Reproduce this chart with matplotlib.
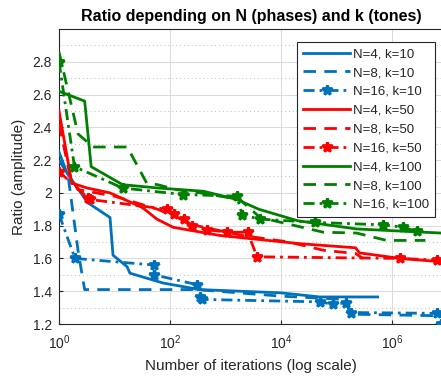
import matplotlib
matplotlib.use("Agg")
import matplotlib.pyplot as plt
from matplotlib.ticker import FixedLocator, FuncFormatter, MultipleLocator

# ---- data ----
x_n4_k10 = [1, 1.4, 3.3, 8.3, 9.4, 16.8, 19, 75, 345, 1.0e4, 5e4, 5.5e5]
y_n4_k10 = [2.25, 2.12, 1.94, 1.85, 1.62, 1.55, 1.51, 1.45, 1.41, 1.39, 1.365, 1.365]

x_n8_k10 = [1, 1.45, 2.2, 2.7, 2.9, 300, 1.0e4, 1.4e5, 1.8e5, 7.6e6]
y_n8_k10 = [2.2, 2.11, 1.65, 1.47, 1.41, 1.41, 1.37, 1.35, 1.26, 1.25]

x_n16_k10 = [1, 1.94, 51, 52, 307, 345, 380, 5e4, 8.6e4, 1.5e5, 1.8e5, 6.5e6, 7.6e6]
y_n16_k10 = [1.87, 1.6, 1.56, 1.5, 1.44, 1.365, 1.35, 1.335, 1.32, 1.33, 1.27, 1.265, 1.2]

x_n4_k50 = [1, 1.7, 3.2, 8.3, 32, 58, 114, 800, 2.2e4, 2.2e5, 2.6e5, 1.4e6, 7.6e6]
y_n4_k50 = [2.5, 2.06, 2.03, 2.0, 1.91, 1.84, 1.79, 1.74, 1.69, 1.665, 1.634, 1.60, 1.58]

x_n8_k50 = [1, 1.6, 2.2, 10, 60, 300, 2e3, 1.4e4, 5.8e4, 2.2e5, 3.0e5]
y_n8_k50 = [2.42, 2.1, 2.02, 1.98, 1.9, 1.8, 1.74, 1.70, 1.65, 1.63, 1.60]

x_n16_k50 = [1, 3.3, 3.6, 88, 120, 180, 250, 465, 1070, 2.5e3, 3.7e3, 1.4e6, 6.5e6]
y_n16_k50 = [2.13, 1.97, 1.96, 1.9, 1.87, 1.84, 1.8, 1.775, 1.76, 1.76, 1.61, 1.60, 1.59]

x_n4_k100 = [1, 2.9, 3.8, 14, 60, 400, 1600, 4000, 2e4, 2.3e5, 7.6e6]
y_n4_k100 = [2.62, 2.56, 2.16, 2.05, 2.03, 2.01, 1.96, 1.90, 1.83, 1.78, 1.755]

x_n8_k100 = [1, 2.2, 4.1, 11, 17, 38, 60, 130, 350, 1800, 4.2e3, 5.8e4, 2.3e5, 4.6e5, 8e5, 4e6]
y_n8_k100 = [2.86, 2.36, 2.28, 2.28, 2.28, 2.06, 2.05, 2.02, 2.0, 1.96, 1.85, 1.76, 1.755, 1.73, 1.71, 1.71]

x_n16_k100 = [1, 1.9, 14, 170, 1600, 2e3, 4.2e3, 4.1e4, 7e5, 1.6e6, 2.8e6]
y_n16_k100 = [2.8, 2.16, 2.03, 1.99, 1.98, 1.865, 1.84, 1.82, 1.805, 1.79, 1.765]

labels = ["N=4, k=10", "N=8, k=10", "N=16, k=10",
          "N=4, k=50", "N=8, k=50", "N=16, k=50",
          "N=4, k=100", "N=8, k=100", "N=16, k=100"]

title = "Ratio depending on N (phases) and k (tones)"
xlabel = "Number of iterations (log scale)"
ylabel = "Ratio (amplitude)"
yticks = [1.2, 1.4, 1.6, 1.8, 2.0, 2.2, 2.4, 2.6, 2.8]
xticks = [1, 1e2, 1e4, 1e6]

# ---- styling ----
plt.rcParams["font.family"] = ["Liberation Sans", "DejaVu Sans"]
plt.rcParams["mathtext.fontset"] = "custom"
plt.rcParams["mathtext.rm"] = "Liberation Sans"
blue = "#0072BD"
red = "#FF0000"
green = "#008000"
txt = "#262626"

fig = plt.figure(figsize=(4.41, 3.8), dpi=100)
ax = fig.add_axes([59 / 441, 56 / 380, (443 - 59) / 441, (324 - 29) / 380])

dash = (0, (4.5, 3))
dashdot = (0, (4, 1.8, 1, 1.8))
series = [
    (x_n4_k10, y_n4_k10, blue, "-", None),
    (x_n8_k10, y_n8_k10, blue, dash, None),
    (x_n16_k10, y_n16_k10, blue, dashdot, "*"),
    (x_n4_k50, y_n4_k50, red, "-", None),
    (x_n8_k50, y_n8_k50, red, dash, None),
    (x_n16_k50, y_n16_k50, red, dashdot, "*"),
    (x_n4_k100, y_n4_k100, green, "-", None),
    (x_n8_k100, y_n8_k100, green, dash, None),
    (x_n16_k100, y_n16_k100, green, dashdot, "*"),
]
for (xs, ys, c, ls, mk), lab in zip(series, labels):
    ax.plot(xs, ys, color=c, linestyle=ls, linewidth=2, marker=mk,
            markersize=7, markeredgewidth=2, label=lab, zorder=3)

ax.set_xscale("log")
ax.set_xlim(1, 10 ** ((443 - 59) / 55.5))
ax.set_ylim(1.2, 3.0)
ax.xaxis.set_major_locator(FixedLocator(xticks))
ax.xaxis.set_minor_locator(FixedLocator([]))
ax.yaxis.set_major_locator(FixedLocator(yticks))
ax.yaxis.set_minor_locator(MultipleLocator(0.1))
ax.yaxis.set_major_formatter(FuncFormatter(lambda v, p: "%g" % round(v, 2)))

ax.grid(True, which="major", color="#dcdcdc", linewidth=0.8, zorder=0)
ax.grid(True, which="minor", axis="y", color="#bdbdbd", linestyle=(0, (1, 3)), linewidth=0.7, zorder=0)
ax.tick_params(which="both", direction="in", colors=txt, labelsize=10, length=3)
ax.tick_params(axis="x", pad=7)
ax.tick_params(axis="y", pad=5)
ax.tick_params(which="minor", length=0)
for s in ax.spines.values():
    s.set_color(txt)
    s.set_linewidth(0.8)

ax.set_title(title, fontsize=11.5, fontweight="bold", color="black", pad=6)
ax.set_xlabel(xlabel, fontsize=11, color=txt, labelpad=5)
ax.set_ylabel(ylabel, fontsize=11, color=txt, labelpad=5)

leg = ax.legend(loc="upper left", bbox_to_anchor=((297 - 59) / (443 - 59), 1 - (42 - 29) / (324 - 29)),
                fontsize=9.5, frameon=True, fancybox=False, handlelength=3.6,
                labelspacing=0.5, borderpad=0.45, handletextpad=0.2, borderaxespad=0)
leg.get_frame().set_edgecolor(txt)
leg.get_frame().set_linewidth(0.8)
leg.get_frame().set_alpha(1)
for t in leg.get_texts():
    t.set_color(txt)

fig.savefig("out.png", dpi=100)
